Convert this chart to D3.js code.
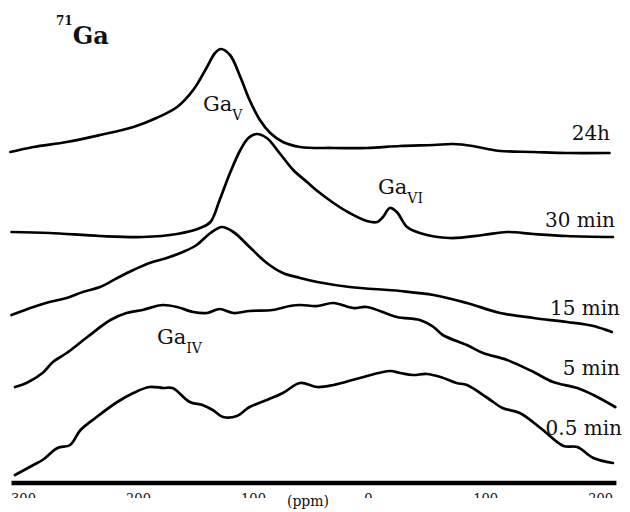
<!DOCTYPE html>
<html>
<head>
<meta charset="utf-8">
<script src="https://cdn.jsdelivr.net/npm/d3@7/dist/d3.min.js"></script>
<style>
  html, body { margin: 0; padding: 0; background: #fff; }
  svg { display: block; }
  text { font-family: "DejaVu Serif", "Liberation Serif", serif; fill: #111; }
</style>
</head>
<body>
<svg id="chart" width="630" height="512"></svg>
<script>
// 71Ga NMR spectra recorded at increasing reaction times (chemical shift in ppm, intensity in a.u.)
const ppm24h = [311, 291, 262, 233, 204, 184, 166, 152, 140, 133, 128, 120, 111, 103, 94, 85, 74, 59, 30, 1, -28, -57, -74, -91, -104, -115, -144, -173, -210];
const int24h = [1, 6, 11, 18, 26, 35, 46, 63, 86, 100, 104, 98, 76, 53, 33, 20, 11, 6, 5, 5, 7, 8, 9, 7, 4, 2, 1, 0, 0];

const ppm30min = [310, 277, 233, 196, 166, 146, 137, 129, 120, 111, 104, 97, 88, 77, 65, 53, 44, 30, 16, 1, -8, -13, -19, -25, -34, -45, -71, -100, -121, -144, -173, -213];
const int30min = [5, 4, 1, 0, 3, 9, 15, 37, 64, 87, 99, 103, 99, 84, 67, 55, 46, 34, 24, 16, 15, 20, 29, 25, 10, 4, -1, 2, 5, 3, 1, 0];

const ppm15min = [310, 291, 277, 262, 248, 233, 218, 204, 190, 175, 161, 149, 137, 127, 117, 103, 88, 74, 59, 44, 16, -28, -57, -86, -115, -144, -173, -196, -212];
const int15min = [17, 25, 30, 34, 40, 45, 54, 62, 69, 74, 80, 87, 99, 105, 100, 85, 69, 59, 54, 50, 45, 41, 37, 29, 19, 14, 10, 6, 0];

const ppm5min = [307, 297, 283, 274, 262, 244, 224, 210, 196, 184, 178, 166, 152, 140, 129, 117, 103, 83, 68, 59, 44, 30, 13, 1, -25, -45, -57, -65, -86, -100, -121, -144, -161, -182, -196, -215];
const int5min = [20, 24, 34, 45, 54, 70, 87, 94, 97, 101, 102, 100, 95, 94, 98, 94, 96, 97, 101, 102, 101, 104, 99, 100, 90, 87, 80, 72, 62, 54, 47, 35, 25, 19, 12, 0];

const ppm05min = [307, 291, 283, 270, 259, 250, 236, 218, 204, 190, 178, 170, 155, 144, 135, 126, 114, 103, 88, 74, 59, 44, 30, 7, -19, -28, -39, -51, -63, -77, -86, -104, -117, -132, -150, -170, -182, -196, -213];
const int05min = [-12, -2, 3, 15, 18, 33, 46, 61, 70, 76, 75, 75, 61, 58, 53, 46, 47, 56, 63, 70, 80, 76, 78, 85, 92, 90, 88, 89, 86, 80, 78, 65, 55, 50, 35, 17, 16, 5, 0];

// reaction-time labels and vertical stacking offsets (a.u.)
const timeLabels = ["24h", "30 min", "15 min", "5 min", "0.5 min"];
const stackOffsets = [330, 246, 151, 76, 20];

// axis ticks (ppm)
const tickValues = [300, 200, 100, 0, -100, -200];
const tickLabels = ["300", "200", "100", "0", "-100", "-200"];

const traces = [
  { ppm: ppm24h, intensity: int24h },
  { ppm: ppm30min, intensity: int30min },
  { ppm: ppm15min, intensity: int15min },
  { ppm: ppm5min, intensity: int5min },
  { ppm: ppm05min, intensity: int05min }
];

const svg = d3.select("#chart");
svg.append("rect").attr("width", 630).attr("height", 512).attr("fill", "#fff");

// chemical shift axis runs from high to low ppm
const x = d3.scaleLinear().domain([300, -200]).range([23, 598]);
const y = d3.scaleLinear().domain([0, 480]).range([483, 3]);

// spectra
traces.forEach((t, i) => {
  const pts = t.ppm.map((p, k) => [p, t.intensity[k] + stackOffsets[i]]);
  const line = d3.line()
    .x(d => x(d[0]))
    .y(d => y(d[1]))
    .curve(d3.curveCatmullRom.alpha(0.5));
  svg.append("path")
    .attr("d", line(pts))
    .attr("fill", "none")
    .attr("stroke", "#000")
    .attr("stroke-width", 2.7)
    .attr("stroke-linejoin", "round")
    .attr("stroke-linecap", "round");
});

// reaction-time labels at the right end of each spectrum
const labelPos = [
  { x: 610, y: 140 },
  { x: 615, y: 227 },
  { x: 620, y: 315 },
  { x: 620, y: 375 },
  { x: 622, y: 435 }
];
timeLabels.forEach((lab, i) => {
  svg.append("text")
    .attr("x", labelPos[i].x)
    .attr("y", labelPos[i].y)
    .attr("text-anchor", "end")
    .attr("font-size", 20)
    .text(lab);
});

// site assignments
function siteLabel(px, py, sub) {
  const t = svg.append("text").attr("x", px).attr("y", py).attr("font-size", 21);
  t.append("tspan").text("Ga");
  t.append("tspan").attr("dy", 9).attr("font-size", 14).text(sub);
}
siteLabel(203, 111, "V");
siteLabel(378, 194, "VI");
siteLabel(157, 344, "IV");

// nucleus label
const nuc = svg.append("text").attr("x", 56).attr("y", 44).attr("font-weight", "bold");
nuc.append("tspan").attr("font-size", 12).attr("dy", -19).text("71");
nuc.append("tspan").attr("font-size", 24).attr("dy", 19).text("Ga");

// x axis: heavy baseline
const axisY = 483;
svg.append("line")
  .attr("x1", x(310)).attr("x2", x(-216))
  .attr("y1", axisY).attr("y2", axisY)
  .attr("stroke", "#000").attr("stroke-width", 4.5);

// tick labels, only their upper part shows above the unit strip
svg.append("defs").append("clipPath").attr("id", "tickClip")
  .attr("clipPathUnits", "userSpaceOnUse")
  .append("rect").attr("x", 0).attr("y", 0).attr("width", 630).attr("height", 498);
const clipped = svg.append("g").attr("clip-path", "url(#tickClip)");
const axis = d3.axisBottom(x)
  .tickValues(tickValues)
  .tickSize(0)
  .tickPadding(0)
  .tickFormat((d, i) => tickLabels[i]);
const gAxis = clipped.append("g")
  .attr("transform", `translate(0,${axisY + 10})`)
  .call(axis);
gAxis.select(".domain").remove();
gAxis.selectAll("text")
  .attr("dy", "0.78em")
  .attr("font-size", 13)
  .attr("font-family", "DejaVu Serif, serif")
  .attr("fill", "#111");

svg.append("text")
  .attr("x", 308)
  .attr("y", 506)
  .attr("text-anchor", "middle")
  .attr("font-size", 14)
  .text("(ppm)");
</script>
</body>
</html>
